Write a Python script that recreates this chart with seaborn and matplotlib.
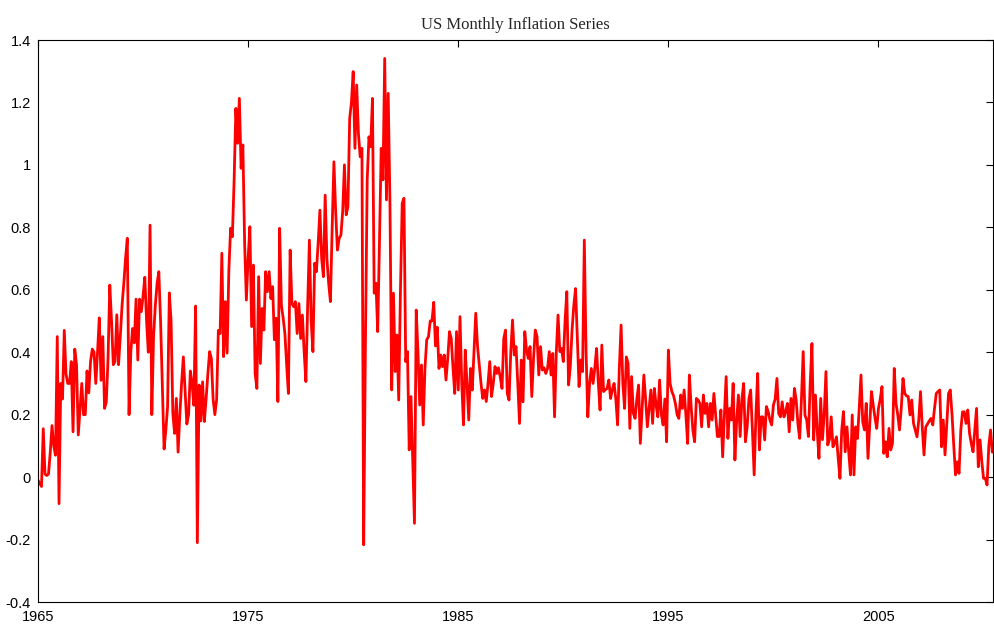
import numpy as np
import pandas as pd
import seaborn as sns
import matplotlib.pyplot as plt

# ---- Data: monthly inflation (%), Jan 1965 onwards
infl_1965_74 = [
    -0.01, -0.02, -0.03, 0.155, 0.01, 0.005, 0.01, 0.08, 0.165, 0.10, 0.07, 0.45,
    -0.085, 0.30, 0.25, 0.47, 0.33, 0.30, 0.30, 0.37, 0.145, 0.41, 0.36, 0.135,
    0.22, 0.30, 0.20, 0.20, 0.34, 0.27, 0.37, 0.41, 0.40, 0.30, 0.40, 0.51,
    0.31, 0.45, 0.22, 0.24, 0.38, 0.615, 0.50, 0.36, 0.37, 0.52, 0.36, 0.45,
    0.55, 0.62, 0.70, 0.765, 0.20, 0.40, 0.476, 0.43, 0.57, 0.375, 0.57, 0.53,
    0.58, 0.64, 0.50, 0.40, 0.807, 0.20, 0.45, 0.55, 0.62, 0.658, 0.50, 0.30,
    0.09, 0.15, 0.225, 0.59, 0.50, 0.205, 0.14, 0.252, 0.08, 0.20, 0.30, 0.385,
    0.28, 0.17, 0.20, 0.34, 0.30, 0.23, 0.548, -0.21, 0.295, 0.18, 0.305, 0.178,
    0.25, 0.33, 0.402, 0.38, 0.25, 0.20, 0.247, 0.47, 0.46, 0.717, 0.386, 0.562,
    0.397, 0.663, 0.797, 0.77, 0.95, 1.181, 1.069, 1.213, 0.989, 1.064, 0.75, 0.567,
]
infl_1975_84 = [
    0.70, 0.802, 0.482, 0.679, 0.332, 0.284, 0.642, 0.364, 0.54, 0.471, 0.658, 0.594,
    0.658, 0.572, 0.61, 0.44, 0.509, 0.242, 0.797, 0.55, 0.51, 0.46, 0.36, 0.268,
    0.727, 0.556, 0.546, 0.562, 0.46, 0.556, 0.444, 0.519, 0.40, 0.306, 0.55, 0.759,
    0.50, 0.402, 0.685, 0.658, 0.75, 0.855, 0.70, 0.642, 0.903, 0.70, 0.62, 0.562,
    0.80, 1.01, 0.85, 0.727, 0.765, 0.775, 0.85, 1.0, 0.84, 0.866, 1.149, 1.20,
    1.299, 1.053, 1.256, 1.10, 1.026, 1.053, -0.217, 0.436, 0.95, 1.09, 1.058, 1.213,
    0.589, 0.621, 0.466, 0.75, 1.053, 0.952, 1.341, 0.888, 1.229, 0.877, 0.279, 0.589,
    0.338, 0.455, 0.247, 0.60, 0.877, 0.893, 0.37, 0.402, 0.087, 0.258, 0.05, -0.148,
    0.535, 0.40, 0.231, 0.359, 0.167, 0.35, 0.44, 0.45, 0.50, 0.50, 0.56, 0.42,
    0.48, 0.348, 0.391, 0.354, 0.391, 0.311, 0.38, 0.466, 0.444, 0.35, 0.268, 0.466,
]
infl_1985_94 = [
    0.279, 0.514, 0.30, 0.167, 0.407, 0.30, 0.183, 0.348, 0.279, 0.40, 0.525, 0.42,
    0.359, 0.30, 0.252, 0.279, 0.242, 0.30, 0.37, 0.258, 0.30, 0.354, 0.332, 0.35,
    0.32, 0.284, 0.444, 0.471, 0.268, 0.247, 0.40, 0.503, 0.391, 0.418, 0.30, 0.172,
    0.375, 0.241, 0.466, 0.407, 0.38, 0.418, 0.258, 0.38, 0.471, 0.45, 0.327, 0.418,
    0.343, 0.35, 0.332, 0.348, 0.402, 0.327, 0.396, 0.193, 0.40, 0.519, 0.402, 0.412,
    0.37, 0.50, 0.594, 0.295, 0.354, 0.471, 0.55, 0.604, 0.45, 0.29, 0.375, 0.338,
    0.759, 0.40, 0.193, 0.30, 0.348, 0.30, 0.35, 0.412, 0.30, 0.215, 0.423, 0.274,
    0.28, 0.284, 0.311, 0.252, 0.28, 0.30, 0.25, 0.167, 0.35, 0.487, 0.30, 0.22,
    0.385, 0.364, 0.156, 0.322, 0.204, 0.188, 0.25, 0.295, 0.108, 0.22, 0.327, 0.25,
    0.161, 0.22, 0.279, 0.172, 0.284, 0.23, 0.193, 0.311, 0.20, 0.167, 0.25, 0.113,
]
infl_1995_04 = [
    0.407, 0.30, 0.274, 0.26, 0.236, 0.20, 0.188, 0.263, 0.22, 0.279, 0.20, 0.108,
    0.327, 0.226, 0.15, 0.113, 0.252, 0.247, 0.236, 0.161, 0.263, 0.204, 0.236, 0.161,
    0.236, 0.183, 0.268, 0.20, 0.13, 0.13, 0.215, 0.065, 0.20, 0.322, 0.124, 0.22,
    0.183, 0.30, 0.055, 0.18, 0.263, 0.13, 0.25, 0.30, 0.113, 0.161, 0.25, 0.279,
    0.15, 0.007, 0.20, 0.332, 0.087, 0.193, 0.193, 0.119, 0.226, 0.21, 0.183, 0.167,
    0.231, 0.25, 0.316, 0.204, 0.193, 0.241, 0.193, 0.21, 0.236, 0.145, 0.252, 0.183,
    0.284, 0.247, 0.17, 0.124, 0.25, 0.402, 0.199, 0.183, 0.13, 0.30, 0.428, 0.119,
    0.263, 0.15, 0.06, 0.252, 0.12, 0.20, 0.338, 0.103, 0.12, 0.193, 0.097, 0.11,
    0.129, 0.06, -0.004, 0.15, 0.21, 0.081, 0.161, 0.08, 0.007, 0.199, 0.007, 0.161,
    0.124, 0.22, 0.327, 0.177, 0.151, 0.236, 0.06, 0.17, 0.274, 0.23, 0.19, 0.156,
]
infl_2005_10 = [
    0.22, 0.25, 0.29, 0.076, 0.113, 0.065, 0.156, 0.087, 0.108, 0.348, 0.236, 0.20,
    0.151, 0.22, 0.316, 0.268, 0.26, 0.258, 0.199, 0.247, 0.172, 0.15, 0.129, 0.183,
    0.274, 0.16, 0.071, 0.161, 0.17, 0.18, 0.188, 0.167, 0.22, 0.268, 0.274, 0.279,
    0.097, 0.183, 0.071, 0.17, 0.268, 0.279, 0.20, 0.10, 0.007, 0.049, 0.012, 0.15,
    0.209, 0.209, 0.172, 0.215, 0.14, 0.108, 0.081, 0.151, 0.22, 0.033, 0.119, 0.05,
    -0.004, -0.004, -0.025, 0.10, 0.151, 0.08, 0.103,
]
start_year = 1965
year_ticks = [1965, 1975, 1985, 1995, 2005]
value_ticks = [-0.4, -0.2, 0, 0.2, 0.4, 0.6, 0.8, 1, 1.2, 1.4]
title = "US Monthly Inflation Series"

infl = infl_1965_74 + infl_1975_84 + infl_1985_94 + infl_1995_04 + infl_2005_10
df = pd.DataFrame({"inflation": infl})
df["year"] = start_year + np.arange(len(df)) / 12

# ---- Plot
sns.set_style("white")
plt.rcParams["font.family"] = ["Liberation Sans", "DejaVu Sans"]

fig = plt.figure(figsize=(9.95, 6.26), dpi=100)
ax = fig.add_axes([38 / 995, 24 / 626, 955 / 995, 562 / 626])

sns.lineplot(data=df, x="year", y="inflation", color="red", linewidth=2.0, ax=ax)

ax.set_xlim(1965, 2010.45)
ax.set_ylim(-0.4, 1.4)
ax.set_xticks(year_ticks)
ax.set_yticks(value_ticks)
ax.set_yticklabels([f"{v:g}" for v in value_ticks])
ax.set_xlabel("")
ax.set_ylabel("")
ax.tick_params(direction="in", length=5, width=0.8, labelsize=10.5,
               top=True, right=True, colors="black")
ax.tick_params(axis="x", pad=6)
ax.tick_params(axis="y", pad=5)
for s in ax.spines.values():
    s.set_color("black")
    s.set_linewidth(0.8)
ax.set_title(title, fontfamily="Liberation Serif", fontsize=12, pad=8)

fig.savefig("out.png", dpi=100)
